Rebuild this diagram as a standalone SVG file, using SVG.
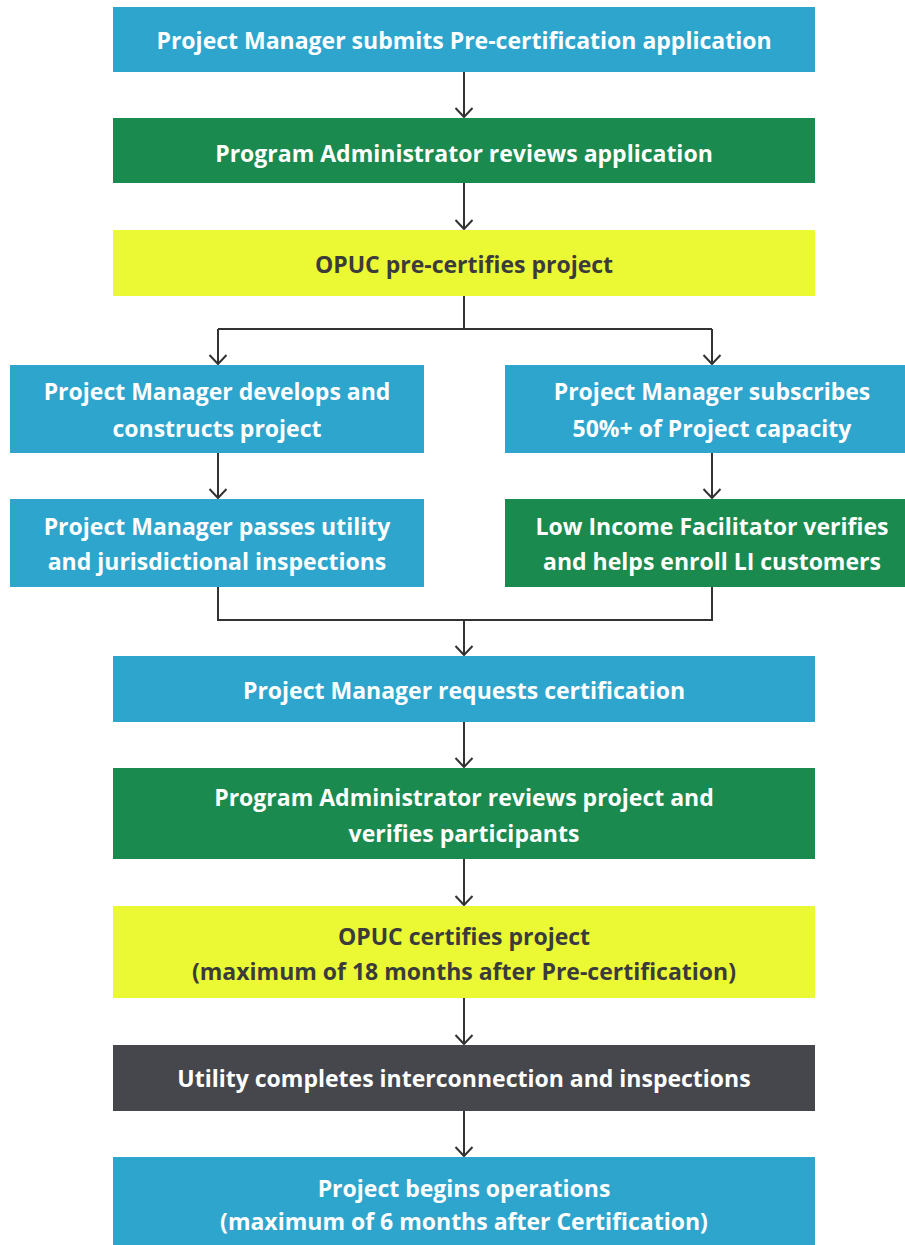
<svg xmlns="http://www.w3.org/2000/svg" width="905" height="1245" viewBox="0 0 905 1245">
<defs>
<marker id="arr" markerWidth="14" markerHeight="20" refX="11" refY="10" orient="auto" markerUnits="userSpaceOnUse" viewBox="0 0 14 20">
<path d="M2,1.5 L11,10 L2,18.5" fill="none" stroke="#333333" stroke-width="2"/>
</marker>
<style>
.blue{fill:#2ea5cd}
.green{fill:#1a8a4f}
.yellow{fill:#ebf834}
.dark{fill:#46474c}
.t{font-family:"Open Sans","Liberation Sans",sans-serif;font-weight:700;font-size:23px;text-anchor:middle;fill:#ffffff}
.ty{fill:#3b3b3b}
.c{fill:none;stroke:#333333;stroke-width:2}
</style>
</defs>
<rect width="905" height="1245" fill="#ffffff"/>
<g id="connectors">
<path class="c" d="M464,72 V117" marker-end="url(#arr)"/>
<path class="c" d="M464,183 V229" marker-end="url(#arr)"/>
<path class="c" d="M464,296 V329"/>
<path class="c" d="M218,329 H712"/>
<path class="c" d="M218,329 V364" marker-end="url(#arr)"/>
<path class="c" d="M712,329 V364" marker-end="url(#arr)"/>
<path class="c" d="M218,453 V498" marker-end="url(#arr)"/>
<path class="c" d="M712,453 V498" marker-end="url(#arr)"/>
<path class="c" d="M218,587 V620 H712 V587"/>
<path class="c" d="M464,620 V655" marker-end="url(#arr)"/>
<path class="c" d="M464,722 V767" marker-end="url(#arr)"/>
<path class="c" d="M464,859 V905" marker-end="url(#arr)"/>
<path class="c" d="M464,998 V1044" marker-end="url(#arr)"/>
<path class="c" d="M464,1111 V1156" marker-end="url(#arr)"/>
</g>
<g id="n1"><rect class="blue" x="113" y="7" width="702" height="65"/><text class="t" x="464" y="49">Project Manager submits Pre-certification application</text></g>
<g id="n2"><rect class="green" x="113" y="118" width="702" height="65"/><text class="t" x="464" y="162">Program Administrator reviews application</text></g>
<g id="n3"><rect class="yellow" x="113" y="230" width="702" height="66"/><text class="t ty" x="464" y="273">OPUC pre-certifies project</text></g>
<g id="n4"><rect class="blue" x="10" y="365" width="414" height="88"/><text class="t" x="217" y="400">Project Manager develops and</text><text class="t" x="217" y="437">constructs project</text></g>
<g id="n5"><rect class="blue" x="505" y="365" width="414" height="88"/><text class="t" x="712" y="400">Project Manager subscribes</text><text class="t" x="712" y="437">50%+ of Project capacity</text></g>
<g id="n6"><rect class="blue" x="10" y="499" width="414" height="88"/><text class="t" x="217" y="535">Project Manager passes utility</text><text class="t" x="217" y="570">and jurisdictional inspections</text></g>
<g id="n7"><rect class="green" x="505" y="499" width="414" height="88"/><text class="t" x="712" y="535">Low Income Facilitator verifies</text><text class="t" x="712" y="570">and helps enroll LI customers</text></g>
<g id="n8"><rect class="blue" x="113" y="656" width="702" height="66"/><text class="t" x="464" y="699">Project Manager requests certification</text></g>
<g id="n9"><rect class="green" x="113" y="768" width="702" height="91"/><text class="t" x="464" y="806">Program Administrator reviews project and</text><text class="t" x="464" y="842">verifies participants</text></g>
<g id="n10"><rect class="yellow" x="113" y="906" width="702" height="92"/><text class="t ty" x="464" y="945">OPUC certifies project</text><text class="t ty" x="464" y="980">(maximum of 18 months after Pre-certification)</text></g>
<g id="n11"><rect class="dark" x="113" y="1045" width="702" height="66"/><text class="t" x="464" y="1087">Utility completes interconnection and inspections</text></g>
<g id="n12"><rect class="blue" x="113" y="1157" width="702" height="95"/><text class="t" x="464" y="1197">Project begins operations</text><text class="t" x="464" y="1230">(maximum of 6 months after Certification)</text></g>
</svg>
